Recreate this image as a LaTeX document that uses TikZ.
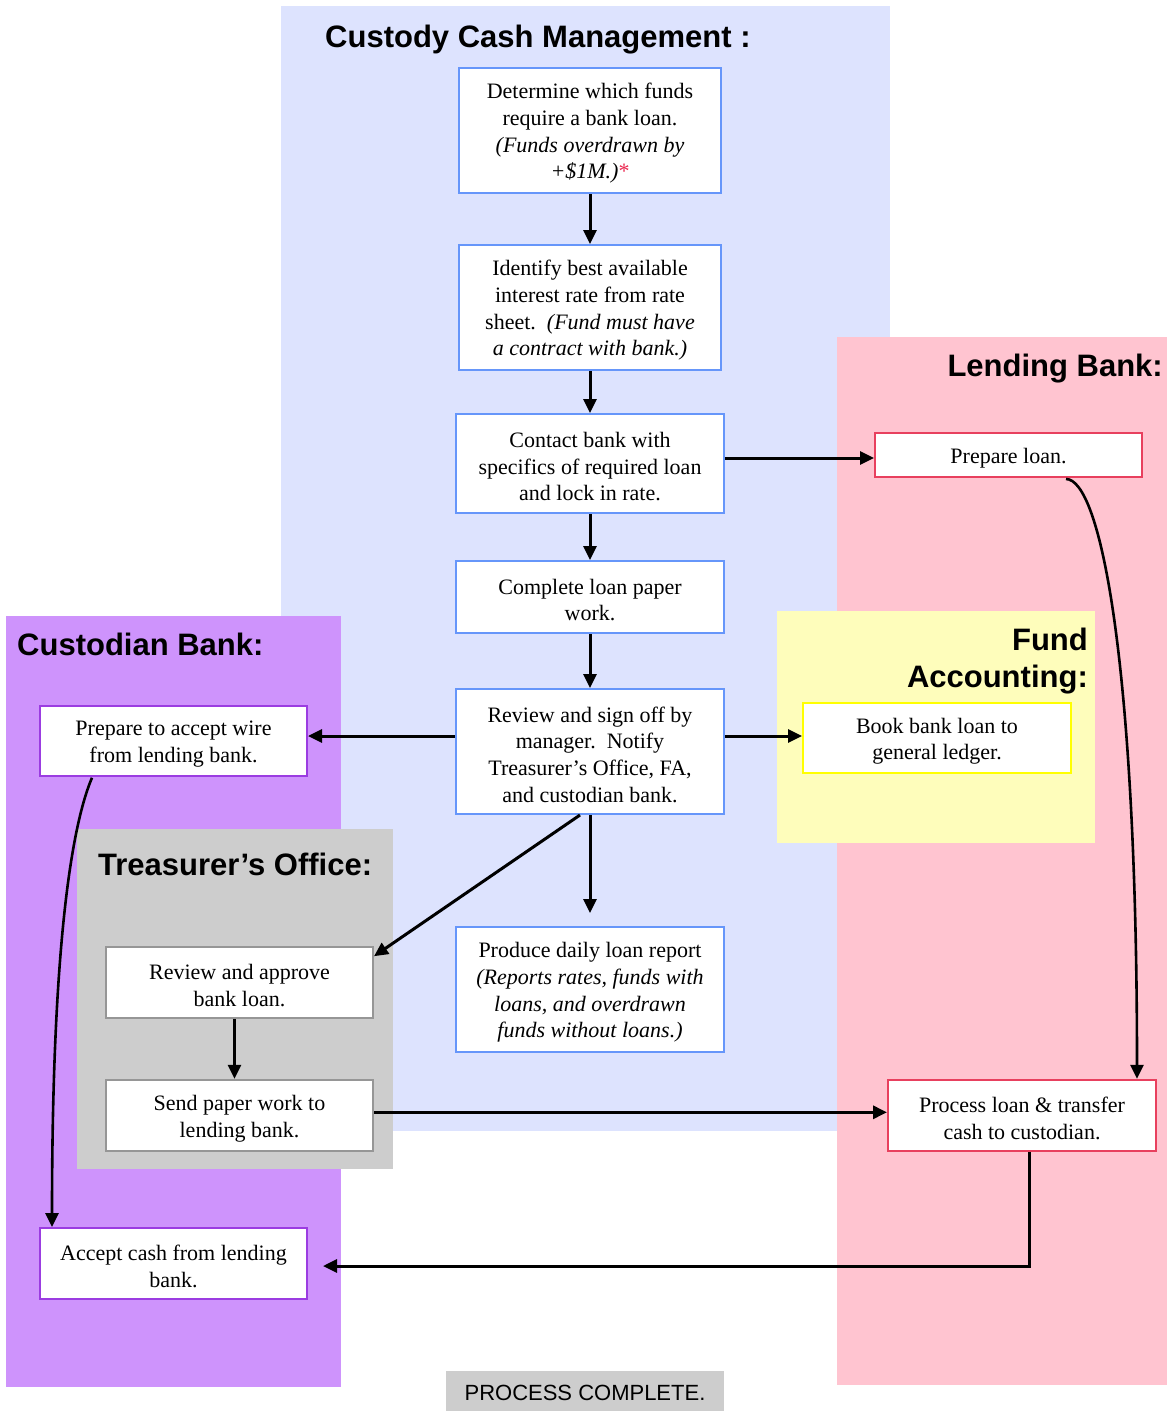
\documentclass[tikz,border=0pt]{standalone}
\usepackage{fontspec}
\setmainfont{Liberation Serif}
\setsansfont{Liberation Sans}
\usetikzlibrary{arrows.meta}

% lane fills
\definecolor{custbg}{RGB}{221,227,254}
\definecolor{lendbg}{RGB}{255,196,208}
\definecolor{cbankbg}{RGB}{206,147,252}
\definecolor{fabg}{RGB}{254,253,187}
\definecolor{treasbg}{RGB}{205,205,205}
% box borders
\definecolor{blueline}{RGB}{102,150,250}
\definecolor{redline}{RGB}{232,64,94}
\definecolor{yelline}{RGB}{255,255,0}
\definecolor{purpline}{RGB}{155,60,225}
\definecolor{grayline}{RGB}{150,150,150}
\definecolor{starred}{RGB}{235,40,80}

% taller first line, so the text sits a little lower in its box
\newcommand{\boxstrut}{\rule{0pt}{21.5pt}}

\tikzset{
  lanetitle/.style={font=\sffamily\bfseries\fontsize{31}{37}\selectfont, inner sep=0pt},
  stepbox/.style={rectangle, fill=white, line width=2pt, align=center, inner sep=0pt,
                  font=\fontsize{22}{26.7}\selectfont},
  custbox/.style={stepbox, draw=blueline},
  lendbox/.style={stepbox, draw=redline},
  fabox/.style={stepbox, draw=yelline},
  cbankbox/.style={stepbox, draw=purpline},
  treasbox/.style={stepbox, draw=grayline},
  flow/.style={line width=3pt, -{Triangle[length=14pt,width=13pt]}},
  curvedflow/.style={line width=2.6pt, -{Triangle[length=14pt,width=13pt]}},
}

\begin{document}
\begin{tikzpicture}[x=1pt,y=-1pt]
\useasboundingbox (0,0) rectangle (1167,1411);
\fill[white] (0,0) rectangle (1167,1411);

% swim lanes
\fill[custbg]  (281,6)   rectangle (890,1131);
\fill[lendbg]  (837,337) rectangle (1167,1385);
\fill[cbankbg] (6,616)   rectangle (341,1387);
\fill[fabg]    (777,611) rectangle (1095,843);
\fill[treasbg] (77,829)  rectangle (393,1169);

% lane titles
\node[lanetitle, anchor=base west] (tcust) at (325,47) {Custody Cash Management :};
\node[lanetitle, anchor=base east] (tlend) at (1163,376) {Lending Bank:};
\node[lanetitle, anchor=base west] (tcbank) at (17,655) {Custodian Bank:};
\node[lanetitle, anchor=base east] (tfa1) at (1088,650) {Fund};
\node[lanetitle, anchor=base east] (tfa2) at (1088,687) {Accounting:};
\node[lanetitle, anchor=base west] (ttreas) at (98,875) {Treasurer’s Office:};

% custody cash management steps
\node[custbox, minimum width=262pt, minimum height=125pt] (det) at (590,130.5)
  {\boxstrut Determine which funds\\require a bank loan.\\\textit{(Funds overdrawn by}\\\textit{+\$1M.)}\textcolor{starred}{*}};
\node[custbox, minimum width=262pt, minimum height=125pt] (ident) at (590,307.5)
  {\boxstrut Identify best available\\interest rate from rate\\sheet.\ \ \textit{(Fund must have}\\\textit{a contract with bank.)}};
\node[custbox, minimum width=268pt, minimum height=99pt] (contact) at (590,463.5)
  {\boxstrut Contact bank with\\specifics of required loan\\and lock in rate.};
\node[custbox, minimum width=268pt, minimum height=72pt] (complete) at (590,597)
  {\boxstrut Complete loan paper\\work.};
\node[custbox, minimum width=268pt, minimum height=125pt] (review) at (590,751.5)
  {\boxstrut Review and sign off by\\manager.\ \ Notify\\Treasurer’s Office, FA,\\and custodian bank.};
\node[custbox, minimum width=268pt, minimum height=125pt] (produce) at (590,989.5)
  {\boxstrut Produce daily loan report\\\textit{(Reports rates, funds with}\\\textit{loans, and overdrawn}\\\textit{funds without loans.)}};

% lending bank steps
\node[lendbox, minimum width=267pt, minimum height=44pt] (prepload) at (1008.5,455) {\boxstrut Prepare loan.};
\node[lendbox, minimum width=268pt, minimum height=71pt] (procloan) at (1022,1115.3)
  {\boxstrut Process loan \& transfer\\cash to custodian.};

% fund accounting step
\node[fabox, minimum width=268pt, minimum height=70pt] (book) at (937,738)
  {\boxstrut Book bank loan to\\general ledger.};

% custodian bank steps
\node[cbankbox, minimum width=267pt, minimum height=70pt] (prepwire) at (173.5,740.7)
  {\boxstrut Prepare to accept wire\\from lending bank.};
\node[cbankbox, minimum width=267pt, minimum height=71pt] (accept) at (173.5,1263.5)
  {\boxstrut Accept cash from lending\\bank.};

% treasurer's office steps
\node[treasbox, minimum width=267pt, minimum height=71pt] (revapp) at (239.5,982.7)
  {\boxstrut Review and approve\\bank loan.};
\node[treasbox, minimum width=267pt, minimum height=71pt] (sendpw) at (239.5,1115.3)
  {\boxstrut Send paper work to\\lending bank.};

% end marker
\node[fill=treasbg, minimum width=278pt, minimum height=40pt, inner sep=0pt,
      font=\sffamily\fontsize{22}{26}\selectfont] (done) at (585,1391) {\rule{0pt}{19.5pt}PROCESS COMPLETE.};

% connectors
\draw[flow] (det) -- (ident);
\draw[flow] (ident) -- (contact);
\draw[flow] (contact) -- (complete);
\draw[flow] (complete) -- (review);
\draw[flow, shorten >=13pt] (review) -- (produce);
\draw[flow] ([yshift=5.5pt]contact.east) -- ([yshift=5.5pt]contact.east -| prepload.west);
\draw[flow] ([yshift=15.5pt]review.west) -- ([yshift=15.5pt]review.west -| prepwire.east);
\draw[flow] ([yshift=15.5pt]review.east) -- ([yshift=15.5pt]review.east -| book.west);
\draw[flow] ([xshift=-10pt]review.south) -- ([yshift=-10pt]revapp.north east);
\draw[flow] ([xshift=-5pt]revapp.south) -- ([xshift=-5pt]sendpw.north);
\draw[flow] ([yshift=3pt]sendpw.east) -- ([yshift=3pt]sendpw.east -| procloan.west);
\draw[flow] ([xshift=7pt]procloan.south) |- ([xshift=15pt,yshift=-2.5pt]accept.east);
\draw[curvedflow] ([xshift=57.5pt,yshift=-1pt]prepload.south)
  .. controls +(34,0) and +(0,-420) .. ([xshift=115pt]procloan.north);
\draw[curvedflow] ([xshift=-81.5pt,yshift=-1pt]prepwire.south)
  .. controls +(-22,52) and +(0,-270) .. ([xshift=-121.5pt]accept.north);
\end{tikzpicture}
\end{document}
